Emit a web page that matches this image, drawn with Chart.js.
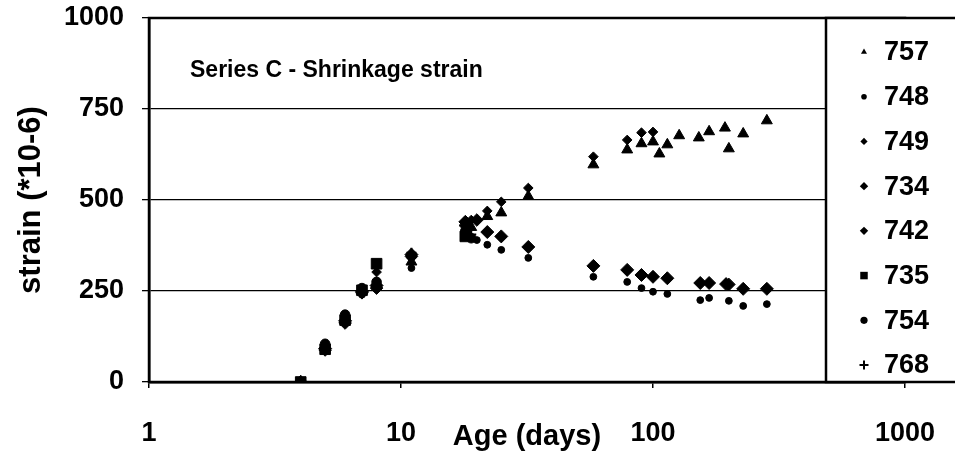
<!DOCTYPE html>
<html lang="en">
<head>
    <meta charset="UTF-8">
    <title>Series C - Shrinkage strain</title>
    <script src="https://cdn.jsdelivr.net/npm/chart.js"></script>
    <style>
        body { margin: 0; background: #fff; }
        #wrap { width: 955px; height: 456px; position: relative; }
    </style>
</head>
<body>
<div id="wrap"><canvas id="myChart"></canvas></div>

<script>
    // values (age in days, strain *10-6)
    const ages757 = [4, 5, 6, 7, 8, 11, 19, 22, 25, 32, 58, 79, 90, 100, 106, 114, 127, 152, 167, 193, 200, 228, 283];
    const strain757 = [0, 95, 172, 250, 272, 330, 425, 455, 465, 510, 597, 638, 655, 660, 627, 652, 677, 671, 688, 698, 641, 682, 718];

    const ages748 = [4, 5, 6, 7, 8, 11, 20, 22, 25, 32, 58, 79, 90, 100, 114, 154, 167, 200, 228, 283];
    const strain748 = [0, 85, 160, 240, 255, 313, 390, 377, 363, 341, 289, 275, 258, 248, 242, 225, 231, 223, 209, 214];

    const ages749 = [4, 5, 6, 7, 8, 11, 19, 22, 25, 32, 58, 79, 90, 100];
    const strain749 = [0, 100, 178, 255, 302, 341, 445, 470, 495, 533, 619, 665, 685, 687];

    const ages734 = [4, 5, 6, 7, 8, 11, 18, 22, 25, 32, 58, 79, 90, 100, 114, 154, 167, 195, 228, 283];
    const strain734 = [0, 92, 168, 248, 265, 350, 440, 412, 400, 371, 319, 308, 294, 289, 285, 272, 272, 269, 256, 256];

    const ages742 = [4, 5, 6, 7, 8, 11, 18, 20, 200];
    const strain742 = [0, 88, 162, 245, 258, 345, 430, 445, 268];

    const ages735 = [4, 5, 6, 7, 8, 18];
    const strain735 = [0, 90, 170, 252, 325, 400];

    const ages754 = [4, 5, 6, 7, 8, 18, 19];
    const strain754 = [0, 105, 185, 258, 275, 415, 395];

    const ages768 = [4, 5, 6, 7, 8, 11, 19];
    const strain768 = [0, 98, 175, 255, 268, 355, 405];

    const xTickValues = [1, 10, 100, 1000];
    const yTickStep = 250;

    function toPoints(ages, strain) {
        return ages.map((a, i) => ({x: a, y: strain[i]}));
    }

    const FONT = 'Liberation Sans, Arial, sans-serif';

    function series(label, ages, strain, style, radius, legendRadius) {
        return {
            label: label,
            data: toPoints(ages, strain),
            showLine: false,
            pointStyle: style,
            pointRadius: radius,
            pointHoverRadius: radius,
            pointBackgroundColor: '#000',
            pointBorderColor: '#000',
            pointBorderWidth: style === 'cross' ? 2 : 1,
            legendRadius: legendRadius
        };
    }

    const datasets = [
        series('757', ages757, strain757, 'triangle', 6.3, 3.5),
        series('748', ages748, strain748, 'circle', 3.4, 2.8),
        series('749', ages749, strain749, 'rectRot', 4.8, 3.6),
        series('734', ages734, strain734, 'rectRot', 6.5, 4.2),
        series('742', ages742, strain742, 'rectRot', 6.3, 4.2),
        series('735', ages735, strain735, 'rect', 7.5, 5),
        series('754', ages754, strain754, 'circle', 4.8, 3.6),
        series('768', ages768, strain768, 'cross', 5, 4.5)
    ];

    function drawMarker(ctx, style, x, y, r) {
        ctx.beginPath();
        if (style === 'triangle') {
            ctx.moveTo(x, y - r);
            ctx.lineTo(x + r * 0.866, y + r * 0.5);
            ctx.lineTo(x - r * 0.866, y + r * 0.5);
            ctx.closePath();
            ctx.fill();
        } else if (style === 'circle') {
            ctx.arc(x, y, r, 0, Math.PI * 2);
            ctx.fill();
        } else if (style === 'rectRot') {
            ctx.moveTo(x, y - r);
            ctx.lineTo(x + r, y);
            ctx.lineTo(x, y + r);
            ctx.lineTo(x - r, y);
            ctx.closePath();
            ctx.fill();
        } else if (style === 'rect') {
            ctx.rect(x - r * 0.75, y - r * 0.75, r * 1.5, r * 1.5);
            ctx.fill();
        } else if (style === 'cross') {
            ctx.lineWidth = 2;
            ctx.moveTo(x - r, y);
            ctx.lineTo(x + r, y);
            ctx.moveTo(x, y - r);
            ctx.lineTo(x, y + r);
            ctx.stroke();
        }
    }

    const framePlugin = {
        id: 'frameAndLegend',
        afterDraw(chart, args, opts) {
            const ctx = chart.ctx;
            const a = chart.chartArea;
            ctx.save();
            // plot frame
            ctx.strokeStyle = '#000';
            ctx.lineWidth = 2.5;
            ctx.strokeRect(a.left, a.top, a.right - a.left, a.bottom - a.top);

            // inner title
            ctx.fillStyle = '#000';
            ctx.font = 'bold 23px ' + FONT;
            ctx.textBaseline = 'middle';
            ctx.textAlign = 'left';
            ctx.fillText('Series C - Shrinkage strain', a.left + 41, a.top + 53);

            // legend box over the right part of the plot
            const left = opts.left;
            const right = chart.width + 5;
            ctx.fillStyle = '#fff';
            ctx.fillRect(left, a.top, right - left, a.bottom - a.top);
            ctx.lineWidth = 2.5;
            ctx.strokeRect(left, a.top, right - left, a.bottom - a.top);

            const n = chart.data.datasets.length;
            const step = (a.bottom - a.top - opts.insetTop - opts.insetBottom) / (n - 1);
            ctx.font = 'bold 27px ' + FONT;
            chart.data.datasets.forEach((ds, i) => {
                const y = a.top + opts.insetTop + i * step;
                ctx.fillStyle = '#000';
                ctx.strokeStyle = '#000';
                drawMarker(ctx, ds.pointStyle, left + 38, y, ds.legendRadius);
                ctx.fillStyle = '#000';
                ctx.fillText(ds.label, left + 58, y + 1);
            });
            ctx.restore();
        }
    };

    const ctx = document.getElementById('myChart').getContext('2d');
    window.myChart = new Chart(ctx, {
        type: 'scatter',
        data: {datasets: datasets},
        plugins: [framePlugin],
        options: {
            responsive: true,
            maintainAspectRatio: false,
            animation: false,
            layout: {padding: {top: 18, right: 50, left: 0, bottom: 0}},
            plugins: {
                legend: {display: false},
                tooltip: {enabled: false},
                frameAndLegend: {left: 826, insetTop: 34, insetBottom: 17}
            },
            scales: {
                x: {
                    type: 'logarithmic',
                    min: 1,
                    max: 1000,
                    afterBuildTicks: (scale) => {
                        scale.ticks = xTickValues.map(v => ({value: v}));
                    },
                    afterFit: (scale) => {
                        scale.height = 74;
                        scale.paddingLeft = 0;
                        scale.paddingRight = 0;
                    },
                    grid: {drawOnChartArea: false, color: '#000', lineWidth: 1.5, tickLength: 6},
                    border: {color: '#000', width: 2.5},
                    ticks: {
                        autoSkip: false,
                        maxRotation: 0,
                        padding: 29,
                        color: '#000',
                        font: {family: FONT, size: 27, weight: 'bold'},
                        callback: (v) => String(v)
                    },
                    title: {
                        display: true,
                        text: 'Age (days)',
                        color: '#000',
                        font: {family: FONT, size: 29, weight: 'bold'},
                        padding: {top: 0, bottom: 2}
                    }
                },
                y: {
                    min: 0,
                    max: 1000,
                    afterFit: (scale) => {
                        scale.width = 149;
                        scale.paddingTop = 0;
                        scale.paddingBottom = 0;
                    },
                    grid: {color: '#000', lineWidth: 1.3, tickLength: 7},
                    border: {color: '#000', width: 2.5},
                    ticks: {
                        stepSize: yTickStep,
                        padding: 18,
                        color: '#000',
                        font: {family: FONT, size: 27, weight: 'bold'},
                        callback: (v) => String(v)
                    },
                    title: {
                        display: true,
                        text: 'strain (*10-6)',
                        color: '#000',
                        font: {family: FONT, size: 31, weight: 'bold'},
                        padding: {top: 13, bottom: 0}
                    }
                }
            }
        }
    });
</script>
</body>
</html>
